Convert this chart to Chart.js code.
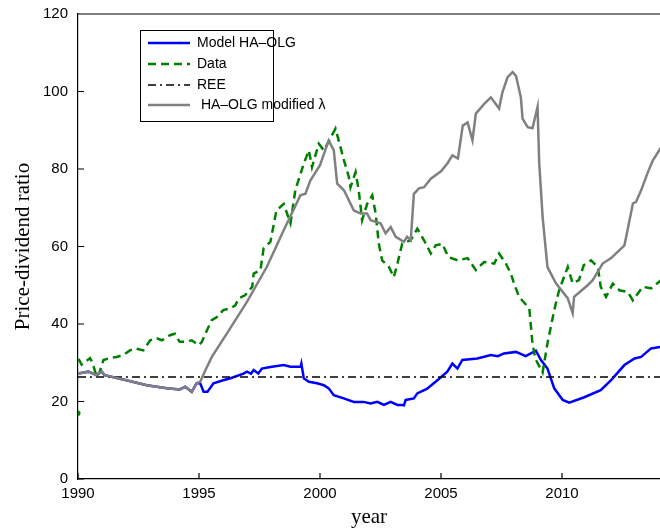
<!DOCTYPE html>
<html>
<head>
<meta charset="utf-8">
<script src="https://cdn.jsdelivr.net/npm/chart.js@4.4.0/dist/chart.umd.min.js"></script>
<style>
  body { margin: 0; background: #fff; }
  #wrap { width: 660px; height: 528px; }
</style>
</head>
<body>
<div id="wrap"><canvas id="pdChart" width="660" height="528"></canvas></div>
<script>
// Valores (años y ratio precio-dividendo)
const xTicks = [1990, 1995, 2000, 2005, 2010];
const yTicks = [0, 20, 40, 60, 80, 100, 120];

const modelYears = [1990, 1990.43, 1990.63, 1990.75, 1990.98, 1991.1, 1992, 1992.84, 1993.67, 1994.2, 1994.43, 1994.7, 1994.9,
  1995.05, 1995.19, 1995.35, 1995.6, 1996, 1996.3, 1996.84, 1996.98, 1997.15, 1997.26, 1997.45, 1997.6, 1997.95, 1998.5, 1998.78,
  1999.2, 1999.23, 1999.33, 1999.54, 1999.88, 2000.16, 2000.36, 2000.57, 2000.98, 2001.4, 2001.8, 2002.09, 2002.37, 2002.64,
  2002.92, 2003.2, 2003.4, 2003.47, 2003.54, 2003.88, 2004.02, 2004.43, 2004.85, 2005.26, 2005.47, 2005.68, 2005.88, 2006.5,
  2007.06, 2007.35, 2007.6, 2008.1, 2008.5, 2008.92, 2009.13, 2009.4, 2009.68, 2010.03, 2010.3, 2010.92, 2011.6, 2012.03,
  2012.58, 2013, 2013.27, 2013.68, 2014.1];
const modelVals = [27.2, 27.7, 27.2, 26.8, 27.7, 26.8, 25.5, 24.2, 23.4, 23.1, 23.8, 22.5, 24.7,
  24.7, 22.5, 22.5, 24.7, 25.5, 26, 27.2, 27.7, 27.2, 28.1, 27.2, 28.5, 28.9, 29.4, 29,
  29, 29.8, 26, 25.1, 24.7, 24.2, 23.4, 21.6, 20.8, 19.9, 19.9, 19.5, 19.9, 19.1,
  19.9, 19.1, 19.1, 19.0, 20.4, 20.8, 22.1, 23.3, 25.5, 27.7, 29.8, 28.5, 30.7, 31.1,
  32, 31.7, 32.4, 32.8, 31.7, 33.1, 30.7, 28.5, 23.4, 20.4, 19.7, 21.1, 22.9, 25.5,
  29.4, 31.1, 31.5, 33.7, 34.1];

const dataYears = [1990, 1990.01, 1990.02, 1990.15, 1990.5, 1990.6, 1990.77, 1990.9, 1991.05, 1991.3, 1991.6, 1991.87, 1992.15,
  1992.36, 1992.7, 1992.98, 1993.26, 1993.47, 1993.8, 1994, 1994.2, 1994.5, 1994.7, 1994.98, 1995.12, 1995.33, 1995.53,
  1995.74, 1996, 1996.3, 1996.5, 1996.64, 1996.9, 1997.2, 1997.26, 1997.54, 1997.67, 1997.95, 1998.2, 1998.5, 1998.78,
  1998.98, 1999.33, 1999.54, 1999.67, 1999.95, 2000.16, 2000.64, 2000.85, 2000.99, 2001.19, 2001.26, 2001.47, 2001.6,
  2001.74, 2001.95, 2002.16, 2002.3, 2002.43, 2002.57, 2002.85, 2003.05, 2003.2, 2003.4, 2003.75, 2004.02, 2004.3,
  2004.58, 2004.78, 2005.06, 2005.3, 2005.7, 2006.1, 2006.44, 2006.78, 2007.2, 2007.4, 2007.68, 2007.89, 2008.02,
  2008.23, 2008.65, 2008.78, 2008.9, 2009.2, 2009.4, 2009.68, 2009.88, 2010.24, 2010.44, 2010.7, 2010.9, 2011.2,
  2011.48, 2011.6, 2011.82, 2012.1, 2012.37, 2012.72, 2012.93, 2013.34, 2013.68, 2014.1];
const dataVals = [17, null, 31, 29.5, 31.2, 30, 26.4, 27.7, 30.7, 31.2, 31.5, 32, 33.2,
  33.7, 33.2, 35.8, 36.3, 35.8, 37.1, 37.5, 35.4, 35.4, 35.8, 34.5, 35.4, 38.4, 41,
  41.8, 43.6, 44, 44.8, 46.6, 47.4, 49.6, 53, 53.9, 59.5, 61.2, 69.3, 71, 66,
  74.5, 81.4, 84.8, 80.5, 86.5, 84.8, 90.4, 85.6, 82.2, 78, 75.3, 79.2, 74.5,
  66.8, 71, 73.2, 68.5, 60.7, 56.4, 54.7, 52.1, 55.6, 60.8, 61.6, 64.6, 61.6,
  58.2, 60.3, 60.7, 57.3, 56.4, 57, 53.9, 56, 55.6, 58.2, 55.6, 53, 50.4,
  47, 44, 35, 31, 27.5, 35, 43.6, 48.7, 54.7, 50.5, 51.3, 55.2, 56.4,
  54.7, 49.6, 47, 50.4, 48.7, 48.3, 46.1, 49.6, 49.2, 51.3];

const reeYears = [1990, 2014.1];
const reeVals = [26.3, 26.3];

const lambdaYears = [1990, 1990.43, 1990.63, 1990.75, 1990.98, 1991.1, 1992, 1992.84, 1993.67, 1994.2, 1994.43, 1994.7, 1994.9,
  1995.05, 1995.26, 1995.53, 1996.15, 1996.98, 1997.8, 1998.5, 1999.19, 1999.4, 1999.6, 2000, 2000.36, 2000.57, 2000.71,
  2000.99, 2001.4, 2001.68, 2001.95, 2002.09, 2002.5, 2002.71, 2002.92, 2003.13, 2003.47, 2003.6, 2003.75, 2003.88, 2004.09,
  2004.3, 2004.58, 2004.86, 2005, 2005.27, 2005.47, 2005.7, 2005.9, 2006.1, 2006.3, 2006.44, 2006.8, 2007.06, 2007.4,
  2007.54, 2007.75, 2007.96, 2008.1, 2008.3, 2008.37, 2008.58, 2008.78, 2008.99, 2009.06, 2009.2, 2009.4, 2009.75,
  2010.24, 2010.44, 2010.5, 2011.06, 2011.27, 2011.68, 2012.03, 2012.58, 2012.93, 2013.06, 2013.27, 2013.55, 2013.75, 2014.1];
const lambdaVals = [27.2, 27.7, 27.2, 26.8, 27.7, 26.8, 25.5, 24.2, 23.4, 23.1, 23.8, 22.5, 24.7,
  25.1, 28, 31.5, 37.5, 45.7, 54.7, 64.2, 73.2, 73.6, 77, 81, 87.4, 84.8, 76.2,
  74.5, 69.3, 68.5, 68.5, 66.8, 66, 63.4, 65, 62.5, 61.2, 62.5, 61.6, 73.6, 75,
  75.3, 77.5, 78.8, 79.4, 81.5, 83.5, 82.7, 91.2, 92, 87.4, 94.3, 96.9, 98.5, 95.6,
  99.8, 103.7, 105, 104, 98.5, 93, 90.8, 90.5, 96, 81.4, 67.6, 54.7, 50.5,
  46.6, 42.8, 47, 50, 51.3, 55.6, 57, 60.3, 71.1, 71.5, 74.5, 79.2, 82.2, 85.6];

const seriesNames = ['Model HA\u2013OLG', 'Data', 'REE', ' HA\u2013OLG modified \u03bb'];

const puntos = (xs, ys) => xs.map((x, i) => ({ x, y: ys[i] }));

// ejes tipo matlab: marcas hacia dentro, caja superior y leyenda
const ejesPlugin = {
    id: 'ejes',
    afterDraw(chart) {
        const { ctx, chartArea: a, scales } = chart;
        ctx.save();
        ctx.strokeStyle = '#000';
        ctx.lineWidth = 1.2;
        ctx.beginPath();
        ctx.moveTo(a.left, a.top);
        ctx.lineTo(a.right, a.top);
        xTicks.forEach(v => {
            const px = scales.x.getPixelForValue(v);
            ctx.moveTo(px, a.bottom);
            ctx.lineTo(px, a.bottom - 6);
        });
        yTicks.forEach(v => {
            const py = scales.y.getPixelForValue(v);
            ctx.moveTo(a.left, py);
            ctx.lineTo(a.left + 6, py);
        });
        ctx.stroke();

        // leyenda
        const bx = 140, by = 30, bw = 133, bh = 91;
        ctx.fillStyle = '#fff';
        ctx.fillRect(bx, by, bw, bh);
        ctx.lineWidth = 1;
        ctx.strokeRect(bx + 0.5, by + 0.5, bw, bh);
        const rows = [43, 64, 85, 105];
        ctx.font = '14px "Liberation Sans", Arial, sans-serif';
        ctx.textBaseline = 'middle';
        chart.data.datasets.forEach((ds, i) => {
            const y = rows[i];
            ctx.strokeStyle = ds.borderColor;
            ctx.lineWidth = ds.borderWidth;
            ctx.setLineDash(ds.borderDash || []);
            ctx.beginPath();
            ctx.moveTo(148, y);
            ctx.lineTo(190, y);
            ctx.stroke();
            ctx.setLineDash([]);
            ctx.fillStyle = '#000';
            ctx.fillText(ds.label, 197, y);
        });
        ctx.restore();
    }
};

new Chart(document.getElementById('pdChart').getContext('2d'), {
    type: 'line',
    data: {
        datasets: [{
            label: seriesNames[0],
            data: puntos(modelYears, modelVals),
            borderColor: '#0000ff',
            borderWidth: 2.5,
            order: 4
        }, {
            label: seriesNames[1],
            data: puntos(dataYears, dataVals),
            borderColor: '#008000',
            backgroundColor: '#008000',
            borderWidth: 2.5,
            borderDash: [8, 5],
            pointRadius: ctx => ctx.dataIndex === 0 ? 1.3 : 0,
            order: 3
        }, {
            label: seriesNames[2],
            data: puntos(reeYears, reeVals),
            borderColor: '#000000',
            borderWidth: 1.5,
            borderDash: [8, 4, 2, 4],
            order: 2
        }, {
            label: seriesNames[3],
            data: puntos(lambdaYears, lambdaVals),
            borderColor: '#808080',
            borderWidth: 2.5,
            order: 1
        }]
    },
    options: {
        responsive: false,
        animation: false,
        spanGaps: false,
        elements: { point: { radius: 0 }, line: { tension: 0 } },
        layout: { autoPadding: false, padding: { top: 14, left: 11, right: 0, bottom: 0 } },
        scales: {
            x: {
                type: 'linear',
                min: 1990,
                max: 2014.05,
                afterBuildTicks: s => { s.ticks = xTicks.map(v => ({ value: v })); },
                afterFit: s => { s.height = 49; s.paddingLeft = 0; s.paddingRight = 0; },
                grid: { display: false, drawTicks: false },
                border: { display: true, color: '#000', width: 1.2 },
                ticks: {
                    padding: 6,
                    color: '#000',
                    maxRotation: 0,
                    font: { family: '"Liberation Sans", Arial, sans-serif', size: 15 },
                    callback: v => String(v)
                },
                title: {
                    display: true,
                    text: 'year',
                    color: '#000',
                    padding: { top: 0, bottom: -2 },
                    font: { family: '"Liberation Serif", "Times New Roman", serif', size: 21 }
                }
            },
            y: {
                min: 0,
                max: 120,
                afterBuildTicks: s => { s.ticks = yTicks.map(v => ({ value: v })); },
                afterFit: s => { s.width = 67; s.paddingTop = 0; s.paddingBottom = 0; },
                grid: { display: false, drawTicks: false },
                border: { display: true, color: '#000', width: 1.2 },
                ticks: {
                    padding: 10,
                    color: '#000',
                    font: { family: '"Liberation Sans", Arial, sans-serif', size: 15 }
                },
                title: {
                    display: true,
                    text: 'Price-dividend ratio',
                    color: '#000',
                    padding: 0,
                    font: { family: '"Liberation Serif", "Times New Roman", serif', size: 21 }
                }
            }
        },
        plugins: {
            legend: { display: false },
            tooltip: { enabled: false }
        }
    },
    plugins: [ejesPlugin]
});
</script>
</body>
</html>
